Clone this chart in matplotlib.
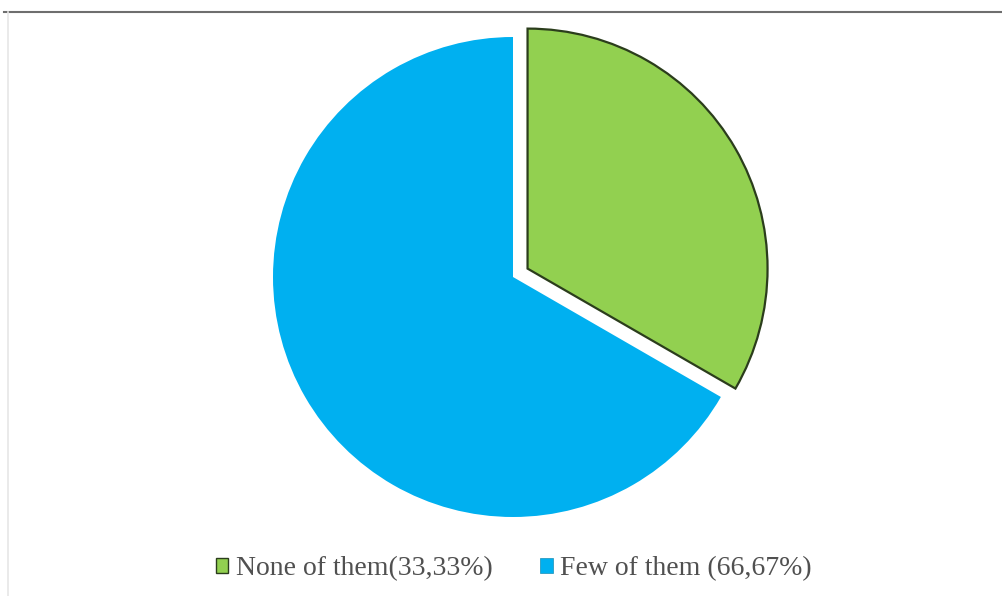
import matplotlib.pyplot as plt
from matplotlib.patches import Patch
from matplotlib.lines import Line2D

labels = ["None of them(33,33%)", "Few of them (66,67%)"]
shares = [33.33, 66.67]
colors = ["#92D050", "#00B0F0"]

W, H = 1003, 596
R = 240  # pie radius in pixels
cx, cy = 513, 277  # pie centre, pixels from top-left

fig = plt.figure(figsize=(W / 100, H / 100), dpi=100)
fig.patch.set_facecolor("white")

aw, ah = 640, 540
ax = fig.add_axes([(cx - aw / 2) / W, (H - cy - ah / 2) / H, aw / W, ah / H])
wedges, _ = ax.pie(shares, colors=colors, startangle=90, counterclock=False,
                   explode=[0.07, 0], radius=1)
wedges[0].set_edgecolor("#2b3d1c")
wedges[0].set_linewidth(1.6)
wedges[1].set_linewidth(0)
ax.set_xlim(-aw / 2 / R, aw / 2 / R)
ax.set_ylim(-ah / 2 / R, ah / 2 / R)
ax.set_aspect("auto")
ax.axis("off")

# thin frame line along the top and faint one on the left
fig.add_artist(Line2D([4 / W, 1], [1 - 11.5 / H, 1 - 11.5 / H], color="#6e6e6e", lw=1.5))
fig.add_artist(Line2D([8 / W, 8 / W], [0, 1 - 12 / H], color="#e6e6e6", lw=1.2))

handles = [Patch(facecolor=colors[0], edgecolor="#2b3d1c", lw=1),
           Patch(facecolor=colors[1], edgecolor="#1a8fb5", lw=0.5)]
fig.legend(handles, labels, loc="center", ncol=2, frameon=False,
           bbox_to_anchor=(514 / W, 1 - 569 / H),
           prop={"family": "Liberation Serif", "size": 20},
           handlelength=0.45, handleheight=0.45, handletextpad=0.28,
           columnspacing=1.7, labelcolor="#505050")

fig.savefig("out.png", dpi=100)
